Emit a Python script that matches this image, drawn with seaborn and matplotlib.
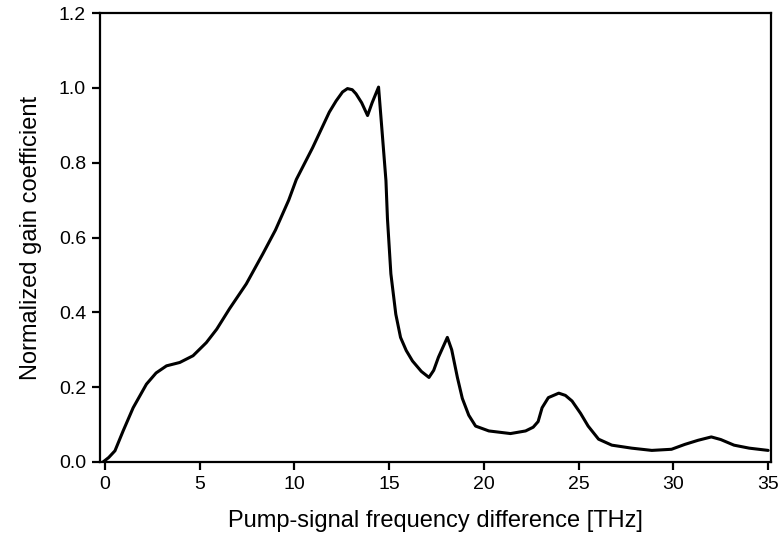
import matplotlib
matplotlib.use("Agg")
import matplotlib.pyplot as plt
import seaborn as sns
import pandas as pd

freq = [-0.15, 0.2, 0.53, 0.96, 1.49, 2.19, 2.7, 3.25, 3.95, 4.65, 5.35,
        5.9, 6.58, 7.46, 8.33, 9.0, 9.7, 10.1, 10.96, 11.84, 12.2, 12.54,
        12.8, 13.05, 13.25, 13.55, 13.86, 14.1, 14.44, 14.65, 14.83, 14.91,
        15.09, 15.35, 15.6, 15.9, 16.23, 16.7, 17.1, 17.35, 17.6, 18.07,
        18.3, 18.6, 18.86, 19.2, 19.56, 20.26, 21.4, 22.2, 22.6, 22.86,
        23.07, 23.4, 23.95, 24.3, 24.65, 25.1, 25.5, 26.05, 26.75, 27.8,
        28.86, 29.9, 30.6, 31.3, 32.0, 32.5, 33.2, 34.0, 35.0]
gain = [-0.002, 0.012, 0.03, 0.083, 0.145, 0.208, 0.238, 0.257, 0.266,
        0.284, 0.319, 0.355, 0.41, 0.476, 0.556, 0.62, 0.70, 0.755, 0.84,
        0.935, 0.965, 0.989, 0.998, 0.995, 0.984, 0.96, 0.926, 0.96, 1.002,
        0.868, 0.752, 0.65, 0.503, 0.395, 0.333, 0.298, 0.27, 0.242, 0.226,
        0.245, 0.28, 0.333, 0.3, 0.226, 0.17, 0.125, 0.096, 0.083, 0.076,
        0.083, 0.093, 0.108, 0.145, 0.172, 0.184, 0.178, 0.163, 0.13,
        0.096, 0.061, 0.045, 0.037, 0.031, 0.034, 0.047, 0.058, 0.067,
        0.06, 0.045, 0.037, 0.031]

xticks = [0, 5, 10, 15, 20, 25, 30, 35]
yticks = [0.0, 0.2, 0.4, 0.6, 0.8, 1.0, 1.2]

df = pd.DataFrame({"freq": freq, "gain": gain})

sns.set_theme(style="ticks")
plt.rcParams['font.family'] = ['Liberation Sans', 'DejaVu Sans']

fig = plt.figure(figsize=(7.79, 5.37), dpi=100)
ax = fig.add_axes([100/779, 75/537, 671/779, 449/537])
sns.lineplot(data=df, x="freq", y="gain", sort=False, color="black",
             linewidth=2.2, ax=ax)
ax.lines[0].set_solid_joinstyle("round")
ax.lines[0].set_solid_capstyle("round")
ax.set_xlim(-0.26, 35.15)
ax.set_ylim(0, 1.2)
ax.set_xticks(xticks)
ax.set_xticklabels([str(t) for t in xticks])
ax.set_yticks(yticks)
ax.set_yticklabels([f"{t:.1f}" for t in yticks])
for s in ax.spines.values():
    s.set_linewidth(1.6)
    s.set_color("black")
ax.tick_params(axis="both", direction="out", length=6, width=1.6,
               labelsize=14, colors="black", pad=4)
ax.set_xlabel("Pump-signal frequency difference [THz]", fontsize=17,
              labelpad=12, color="black")
ax.set_ylabel("Normalized gain coefficient", fontsize=17, labelpad=12,
              color="black")
fig.savefig("out.png", dpi=100)
